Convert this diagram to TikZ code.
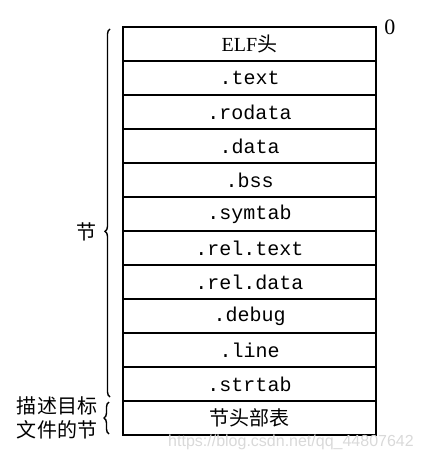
\documentclass[tikz,border=0pt]{standalone}
\usepackage{fontspec}
\setmainfont{Liberation Serif}
\setsansfont{Liberation Sans}
\setmonofont{Liberation Mono}
\newfontfamily\cjk{Noto Sans CJK SC}
\usetikzlibrary{positioning,decorations.pathreplacing}

\tikzset{
    sect/.style={draw, line width=0.8pt, minimum width=126.5pt, minimum height=17pt,
        inner sep=0pt, outer sep=0pt, font=\ttfamily\fontsize{10}{12}\selectfont},
    curly/.style={decorate, line width=0.7pt},
    cjklabel/.style={font=\cjk\fontsize{10}{12}\selectfont},
}

\begin{document}
\begin{tikzpicture}[x=0.5pt,y=-0.5pt]
    \useasboundingbox (0,0) rectangle (422,458);

    \node[sect] (r1) at (249.5,44) {{\rmfamily ELF}{\cjk 头}};
    \foreach \name [count=\i from 2] in {.text,.rodata,.data,.bss,.symtab,.rel.text,.rel.data,.debug,.line,.strtab} {
        \pgfmathtruncatemacro\j{\i-1}
        \node[sect, below=0pt of r\j] (r\i) {\name};
    }
    \node[sect, below=0pt of r11, cjklabel] (r12) {节头部表};

    \node[font=\rmfamily\fontsize{11}{13}\selectfont, inner sep=0pt, right=4pt of r1.north east] (off) {0};

    % braces on the left
    \draw[curly, decoration={brace, amplitude=2.5pt, aspect=0.45}]
        ([xshift=-6.5pt, yshift=2pt]r11.south west) -- ([xshift=-6.5pt, yshift=-1pt]r1.north west);
    \draw[curly, decoration={brace, amplitude=2.5pt}]
        ([xshift=-7pt, yshift=0.5pt]r12.south west) -- ([xshift=-7pt, yshift=-0.5pt]r12.north west);

    \node[cjklabel] (sec) at (86,232) {节};
    \node[cjklabel, align=center] (desc) at (57,418) {描述目标\\文件的节};

    \node[font=\sffamily\fontsize{8}{10}\selectfont, text=gray!30] (mark) at (291,442) {https://blog.csdn.net/qq\_44807642};
\end{tikzpicture}
\end{document}
